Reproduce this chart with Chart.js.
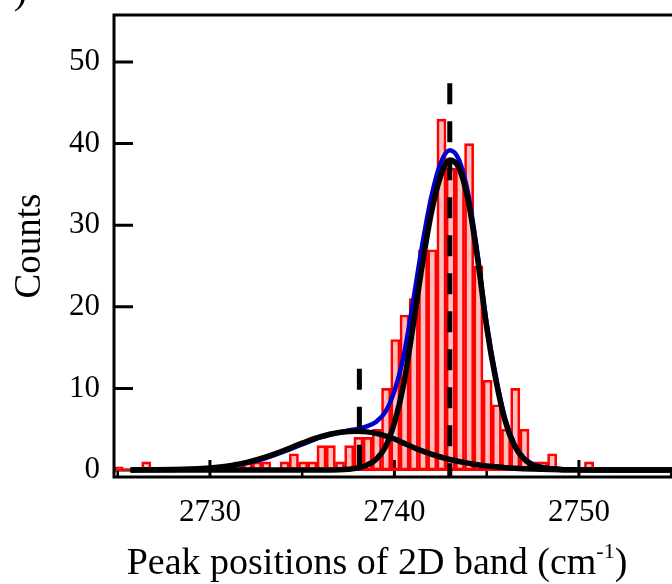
<!DOCTYPE html>
<html>
<head>
<meta charset="utf-8">
<script src="https://cdn.jsdelivr.net/npm/chart.js@4.4.1/dist/chart.umd.min.js"></script>
<style>
  html, body { margin: 0; padding: 0; background: #fff; overflow: hidden; }
  canvas { display: block; }
</style>
</head>
<body>
<canvas id="myChart" width="680" height="584"></canvas>
<script>
// Histograma: bins de 0.5 cm-1 empezando en 2724.8
const binStart = 2724.8;
const binWidth = 0.5;
const counts = [
    0.4, 0, 0, 1, 0, 0, 0, 0, 0, 0,
    0, 0, 0, 1, 1, 1, 1, 0, 1, 2,
    1, 1, 3, 3, 1, 3, 4, 4, 5, 10,
    16, 19, 21, 27, 27, 43, 37, 37, 40, 25,
    11, 8, 5, 10, 5, 1, 1, 2, 0, 0,
    0, 1, 0, 0, 0, 0, 0, 0, 0, 0, 0
];

// Curvas de ajuste
const fitX = [2725.7, 2727, 2728, 2729, 2730, 2731, 2732, 2733, 2734, 2735,
    2736, 2737, 2737.5, 2738, 2738.5, 2739, 2739.5, 2740, 2740.5, 2741,
    2741.5, 2742, 2742.5, 2743, 2743.5, 2744, 2744.5, 2745, 2745.5, 2746,
    2746.5, 2747, 2747.5, 2748, 2749, 2750, 2752, 2755.4];
const fitSum = [0.02, 0.04, 0.07, 0.12, 0.23, 0.45, 0.85, 1.45, 2.25, 3.15,
    4.0, 4.6, 4.85, 5.05, 5.35, 5.9, 7.1, 9.7, 14, 20.5,
    27.5, 33.5, 37.6, 39.2, 38, 33.8, 26.6, 18, 11.4, 6.3,
    3.2, 1.55, 0.72, 0.38, 0.13, 0.05, 0.01, 0];
const fitBroad = [0.02, 0.04, 0.07, 0.13, 0.25, 0.5, 0.95, 1.6, 2.4, 3.3,
    4.1, 4.6, 4.72, 4.75, 4.68, 4.5, 4.2, 3.8, 3.3, 2.8,
    2.35, 1.95, 1.6, 1.3, 1.05, 0.85, 0.65, 0.5, 0.4, 0.3,
    0.22, 0.16, 0.12, 0.09, 0.05, 0.03, 0.01, 0];
const fitNarrow = [0, 0, 0, 0, 0, 0, 0, 0, 0, 0,
    0, 0.03, 0.1, 0.25, 0.6, 1.3, 2.8, 5.8, 10.5, 17.5,
    25, 31.5, 36, 38, 37, 33, 26, 17.5, 11, 6,
    3, 1.4, 0.6, 0.3, 0.08, 0.02, 0, 0];

// Lineas verticales punteadas (posicion, altura)
const peakLines = [
    { x: 2743.0, top: 47.4 },
    { x: 2738.1, top: 12.4 }
];

const xTicks = [2730, 2740, 2750];
const xMinorTicks = [2725, 2735, 2745, 2755];
const yTicks = [0, 10, 20, 30, 40, 50];
const xTitle = 'Peak positions of 2D band (cm';
const xTitleSup = '-1';
const yTitle = 'Counts';

const serif = '"Liberation Serif", "Times New Roman", serif';

const bars = counts.map((c, i) => ({ x: binStart + (i + 0.5) * binWidth, y: c }));
const toPoints = (ys) => fitX.map((x, i) => ({ x: x, y: ys[i] }));

const lineBase = {
    type: 'line',
    pointRadius: 0,
    fill: false,
    cubicInterpolationMode: 'monotone'
};

// Ticks hacia adentro, marco y titulos
const frame = {
    id: 'frame',
    beforeDatasetsDraw(chart) {
        const { ctx, chartArea: a, scales: { x, y } } = chart;
        ctx.save();
        ctx.strokeStyle = '#000';
        ctx.lineWidth = 3;
        ctx.beginPath();
        yTicks.forEach(v => {
            const py = y.getPixelForValue(v);
            ctx.moveTo(a.left, py);
            ctx.lineTo(a.left + 19, py);
        });
        xTicks.forEach(v => {
            const px = x.getPixelForValue(v);
            ctx.moveTo(px, a.bottom);
            ctx.lineTo(px, a.bottom - 17);
        });
        ctx.stroke();
        ctx.lineWidth = 2.5;
        ctx.beginPath();
        xMinorTicks.forEach(v => {
            const px = x.getPixelForValue(v);
            ctx.moveTo(px, a.bottom);
            ctx.lineTo(px, a.bottom - 6);
        });
        ctx.stroke();
        ctx.restore();
    },
    afterDraw(chart) {
        const { ctx, chartArea: a } = chart;
        ctx.save();
        ctx.strokeStyle = '#000';
        ctx.lineWidth = 3;
        ctx.strokeRect(a.left, a.top, a.right - a.left, a.bottom - a.top);

        ctx.fillStyle = '#000';
        // titulo eje x con superindice
        ctx.font = '38px ' + serif;
        const w1 = ctx.measureText(xTitle).width;
        ctx.font = '22px ' + serif;
        const w2 = ctx.measureText(xTitleSup).width;
        ctx.font = '38px ' + serif;
        const w3 = ctx.measureText(')').width;
        let tx = 377 - (w1 + w2 + w3) / 2;
        const ty = 574;
        ctx.textBaseline = 'alphabetic';
        ctx.textAlign = 'left';
        ctx.fillText(xTitle, tx, ty);
        tx += w1;
        ctx.font = '22px ' + serif;
        ctx.fillText(xTitleSup, tx, ty - 16);
        tx += w2;
        ctx.font = '38px ' + serif;
        ctx.fillText(')', tx, ty);

        // titulo eje y
        ctx.translate(30, 246);
        ctx.rotate(-Math.PI / 2);
        ctx.textAlign = 'center';
        ctx.textBaseline = 'middle';
        ctx.font = '37px ' + serif;
        ctx.fillText(yTitle, 0, 0);
        ctx.restore();

        // resto de la etiqueta del panel
        ctx.save();
        ctx.fillStyle = '#000';
        ctx.font = '40px ' + serif;
        ctx.textAlign = 'right';
        ctx.textBaseline = 'alphabetic';
        ctx.fillText(')', 27, 3);
        ctx.restore();
    }
};

const ctx = document.getElementById('myChart');

const myChart = new Chart(ctx, {
    type: 'bar',
    data: {
        datasets: [
            ...peakLines.map(p => ({
                type: 'line',
                data: [{ x: p.x, y: p.top }, { x: p.x, y: -0.85 }],
                borderColor: '#000',
                borderWidth: 5,
                borderDash: [21, 17],
                borderCapStyle: 'butt',
                pointRadius: 0,
                order: 0
            })),
            { ...lineBase, data: toPoints(fitNarrow), borderColor: '#000', borderWidth: 5.5, order: 1 },
            { ...lineBase, data: toPoints(fitBroad), borderColor: '#000', borderWidth: 5.5, order: 2 },
            { ...lineBase, data: toPoints(fitSum), borderColor: '#0000cc', borderWidth: 4.5, order: 3 },
            {
                type: 'line',
                data: [{ x: 2724.8, y: 0 }, { x: 2755.4, y: 0 }],
                borderColor: '#ff0000',
                borderWidth: 2,
                pointRadius: 0,
                order: 4
            },
            {
                type: 'bar',
                data: bars,
                backgroundColor: 'rgba(255, 0, 0, 0.25)',
                borderColor: '#ff0000',
                borderWidth: 2,
                borderSkipped: false,
                barPercentage: 1,
                categoryPercentage: 1,
                order: 5
            }
        ]
    },
    options: {
        responsive: false,
        animation: false,
        devicePixelRatio: 1,
        layout: { padding: { top: 15, right: 2, left: 0, bottom: 0 } },
        plugins: {
            legend: { display: false },
            tooltip: { enabled: false }
        },
        scales: {
            x: {
                type: 'linear',
                min: 2724.8,
                max: 2755.37,
                offset: false,
                grid: { display: false, drawTicks: false },
                border: { display: false },
                ticks: {
                    color: '#000',
                    font: { family: serif, size: 31 },
                    padding: 17,
                    maxRotation: 0,
                    callback: (v) => String(v)
                },
                afterBuildTicks: (s) => { s.ticks = xTicks.map(v => ({ value: v })); },
                afterFit: (s) => { s.height = 107; s.paddingLeft = 0; s.paddingRight = 0; }
            },
            y: {
                min: -0.85,
                max: 55.76,
                grid: { display: false, drawTicks: false },
                border: { display: false },
                ticks: {
                    color: '#000',
                    font: { family: serif, size: 31 },
                    padding: 14,
                    callback: (v) => String(v)
                },
                afterBuildTicks: (s) => { s.ticks = yTicks.map(v => ({ value: v })); },
                afterFit: (s) => { s.width = 114; s.paddingTop = 0; s.paddingBottom = 0; }
            }
        }
    },
    plugins: [frame]
});
</script>
</body>
</html>
